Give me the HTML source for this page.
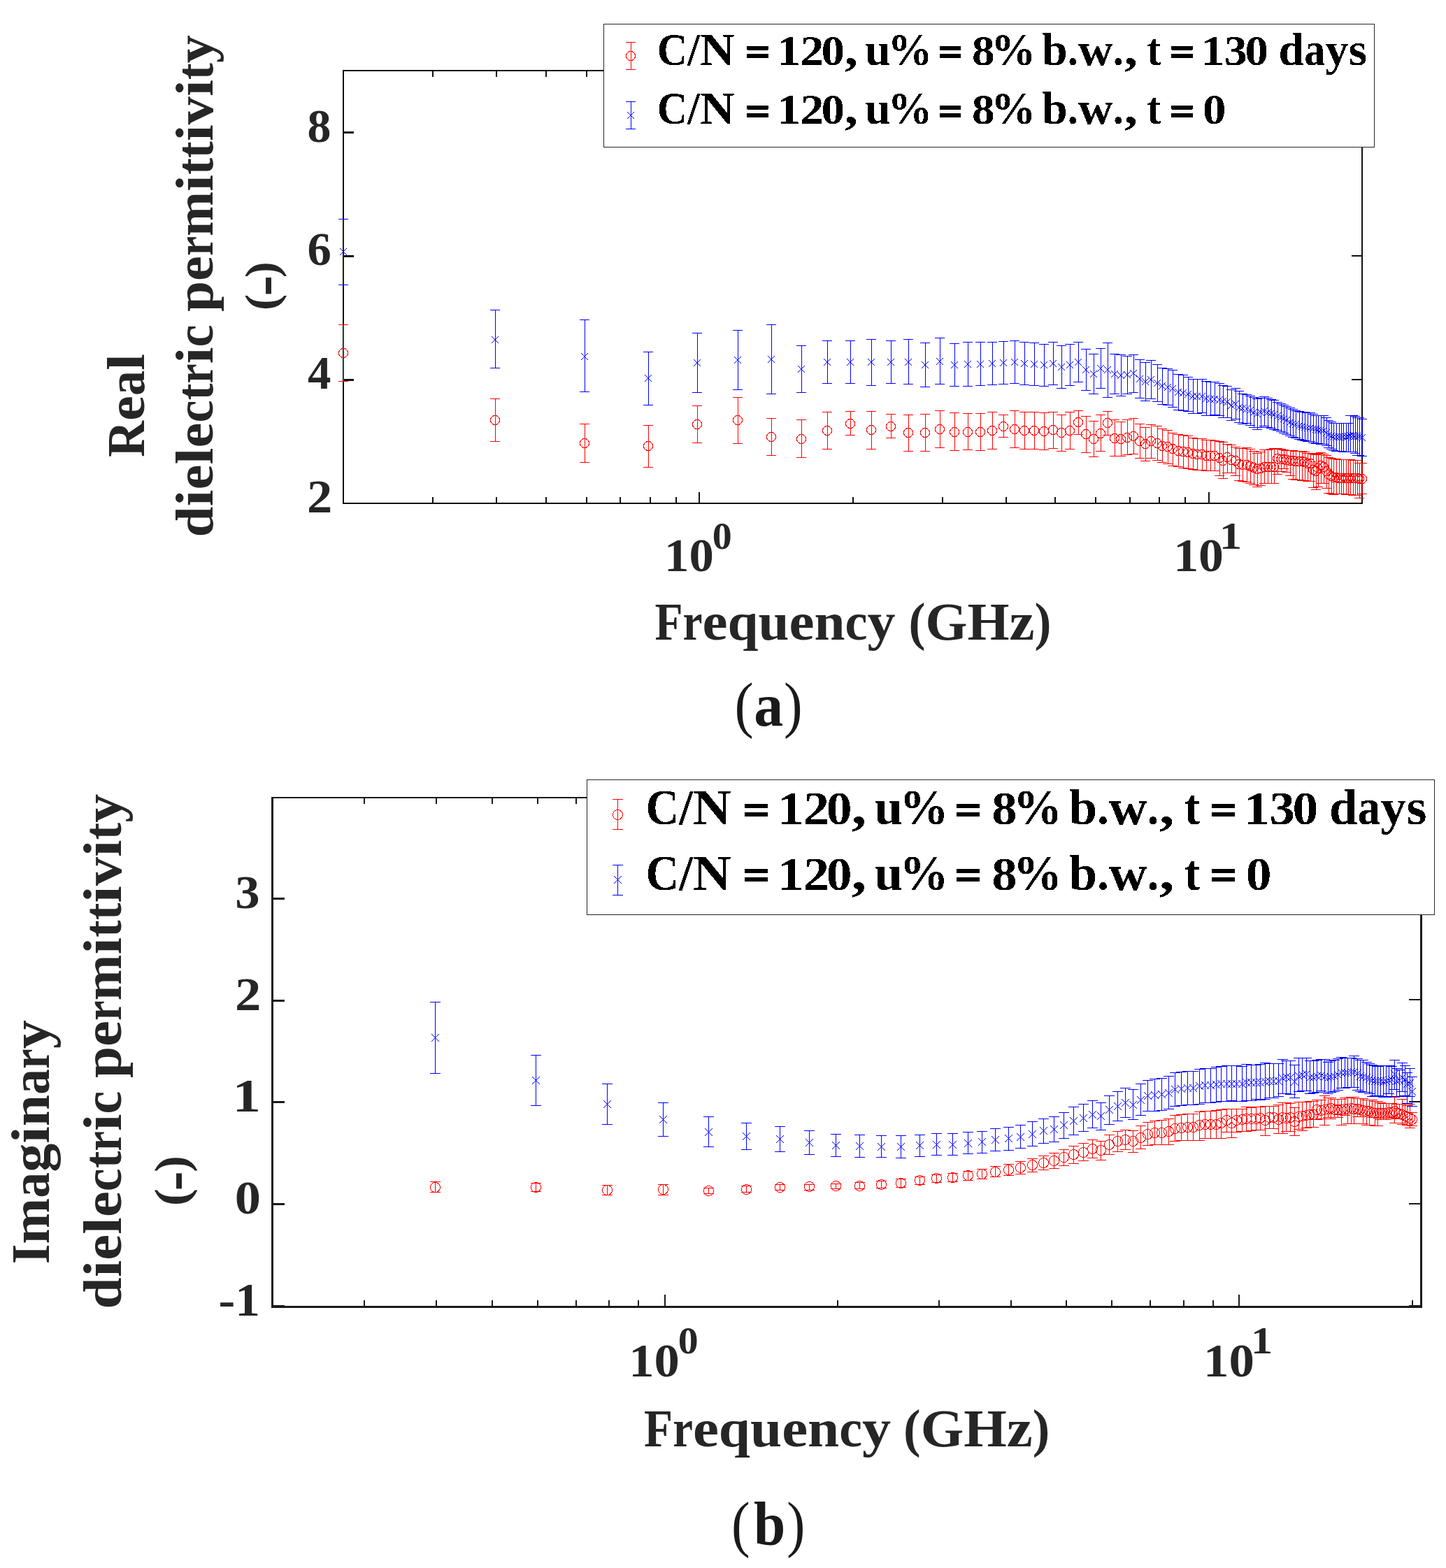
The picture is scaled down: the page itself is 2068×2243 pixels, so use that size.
<!DOCTYPE html>
<html lang="en">
<head>
<meta charset="utf-8">
<title>Dielectric permittivity vs frequency</title>
<style>
html,body{margin:0;padding:0;background:#fff;}
svg{display:block;}
text{font-family:"Liberation Serif", "DejaVu Serif", serif;font-weight:bold;white-space:pre;}
</style>
</head>
<body>
<svg xmlns="http://www.w3.org/2000/svg" width="2068" height="2243" viewBox="0 0 2068 2243">
<defs>
<filter id="alias" x="-2%" y="-20%" width="104%" height="140%" color-interpolation-filters="sRGB"><feComponentTransfer><feFuncA type="discrete" tableValues="0 1"/></feComponentTransfer></filter>
</defs>
<rect width="2068" height="2243" fill="#fff"/>
<g id="plot-a">
<path d="M490 100H492V721H490zM1947 100H1949V721H1947zM490 100H1949V102H490zM490 719H1949V721H490zM618 711H620V719H618zM618 102H620V110H618zM709 711H711V719H709zM709 102H711V110H709zM780 711H782V719H780zM780 102H782V110H780zM838 711H840V719H838zM838 102H840V110H838zM886 711H888V719H886zM886 102H888V110H886zM929 711H931V719H929zM929 102H931V110H929zM966 711H968V719H966zM966 102H968V110H966zM1219 711H1221V719H1219zM1219 102H1221V110H1219zM1347 711H1349V719H1347zM1347 102H1349V110H1347zM1438 711H1440V719H1438zM1438 102H1440V110H1438zM1508 711H1510V719H1508zM1508 102H1510V110H1508zM1566 711H1568V719H1566zM1566 102H1568V110H1566zM1615 711H1617V719H1615zM1615 102H1617V110H1615zM1657 711H1659V719H1657zM1657 102H1659V110H1657zM1694 711H1696V719H1694zM1694 102H1696V110H1694zM999 704H1001V719H999zM999 102H1001V117H999zM1728 704H1730V719H1728zM1728 102H1730V117H1728zM492 542H506V545H492zM1933 542H1947V544H1933zM492 365H506V368H492zM1933 365H1947V367H1933zM492 188H506V191H492zM1933 188H1947V190H1933z" fill="#111" shape-rendering="crispEdges"/>
<path d="M491.5 464V546M484 464.5h14M484 545.5h14M708.5 570V632M701 570.5h14M701 631.5h14M836.5 606V662M829 606.5h14M829 661.5h14M927.5 608V669M920 608.5h14M920 668.5h14M997.5 580V634M990 580.5h14M990 633.5h14M1055.5 568V635M1048 568.5h14M1048 634.5h14M1103.5 598V652M1096 598.5h14M1096 651.5h14M1146.5 600V655M1139 600.5h14M1139 654.5h14M1183.5 589V643M1176 589.5h14M1176 642.5h14M1216.5 588V623M1209 588.5h14M1209 622.5h14M1246.5 588V643M1239 588.5h14M1239 642.5h14M1274.5 592V627M1267 592.5h14M1267 626.5h14M1299.5 593V646M1292 593.5h14M1292 645.5h14M1323.5 592V646M1316 592.5h14M1316 645.5h14M1344.5 587V641M1337 587.5h14M1337 640.5h14M1365.5 590V645M1358 590.5h14M1358 644.5h14M1384.5 591V644M1377 591.5h14M1377 643.5h14M1402.5 591V645M1395 591.5h14M1395 644.5h14M1419.5 589V643M1412 589.5h14M1412 642.5h14M1435.5 593V626M1428 593.5h14M1428 625.5h14M1451.5 587V641M1444 587.5h14M1444 640.5h14M1465.5 589V643M1458 589.5h14M1458 642.5h14M1479.5 589V643M1472 589.5h14M1472 642.5h14M1493.5 590V644M1486 590.5h14M1486 643.5h14M1506.5 589V642M1499 589.5h14M1499 641.5h14M1518.5 593V646M1511 593.5h14M1511 645.5h14M1530.5 589V643M1523 589.5h14M1523 642.5h14M1542.5 587V622M1535 587.5h14M1535 621.5h14M1553.5 595V648M1546 595.5h14M1546 647.5h14M1564.5 602V654M1557 602.5h14M1557 653.5h14M1574.5 593V646M1567 593.5h14M1567 645.5h14M1584.5 588V623M1577 588.5h14M1577 622.5h14M1594.5 600V653M1587 600.5h14M1587 652.5h14M1603.5 603V653M1596 603.5h14M1596 652.5h14M1612.5 600V651M1605 600.5h14M1605 650.5h14M1621.5 598V650M1614 598.5h14M1614 649.5h14M1630.5 606V656M1623 606.5h14M1623 655.5h14M1638.5 611V660M1631 611.5h14M1631 659.5h14M1646.5 607V656M1639 607.5h14M1639 655.5h14M1655.5 609V659M1648 609.5h14M1648 658.5h14M1662.5 613V662M1655 613.5h14M1655 661.5h14M1670.5 615V664M1663 615.5h14M1663 663.5h14M1677.5 619V667M1670 619.5h14M1670 666.5h14M1685.5 621V668M1678 621.5h14M1678 667.5h14M1692.5 622V670M1685 622.5h14M1685 669.5h14M1699.5 623V671M1692 623.5h14M1692 670.5h14M1706.5 626V672M1699 626.5h14M1699 671.5h14M1712.5 627V673M1705 627.5h14M1705 672.5h14M1719.5 627V673M1712 627.5h14M1712 672.5h14M1725.5 629V674M1718 629.5h14M1718 673.5h14M1731.5 629V674M1724 629.5h14M1724 673.5h14M1737.5 630V674M1730 630.5h14M1730 673.5h14M1744.5 631V681M1737 631.5h14M1737 680.5h14M1749.5 632V685M1742 632.5h14M1742 684.5h14M1755.5 635V677M1748 635.5h14M1748 676.5h14M1761.5 636V677M1754 636.5h14M1754 676.5h14M1767.5 639V681M1760 639.5h14M1760 680.5h14M1772.5 641V688M1765 641.5h14M1765 687.5h14M1777.5 641V689M1770 641.5h14M1770 688.5h14M1783.5 640V690M1776 640.5h14M1776 689.5h14M1788.5 642V692M1781 642.5h14M1781 691.5h14M1793.5 645V694M1786 645.5h14M1786 693.5h14M1798.5 648V697M1791 648.5h14M1791 696.5h14M1803.5 646V695M1796 646.5h14M1796 694.5h14M1808.5 643V692M1801 643.5h14M1801 691.5h14M1813.5 643V692M1806 643.5h14M1806 691.5h14M1818.5 642V692M1811 642.5h14M1811 691.5h14M1822.5 641V692M1815 641.5h14M1815 691.5h14M1827.5 641V679M1820 641.5h14M1820 678.5h14M1832.5 642V675M1825 642.5h14M1825 674.5h14M1836.5 643V671M1829 643.5h14M1829 670.5h14M1840.5 644V676M1833 644.5h14M1833 675.5h14M1845.5 644V681M1838 644.5h14M1838 680.5h14M1849.5 644V686M1842 644.5h14M1842 685.5h14M1853.5 645V687M1846 645.5h14M1846 686.5h14M1858.5 645V687M1851 645.5h14M1851 686.5h14M1862.5 645V688M1855 645.5h14M1855 687.5h14M1866.5 646V688M1859 646.5h14M1859 687.5h14M1870.5 648V689M1863 648.5h14M1863 688.5h14M1874.5 648V689M1867 648.5h14M1867 688.5h14M1878.5 649V698M1871 649.5h14M1871 697.5h14M1882.5 650V701M1875 650.5h14M1875 700.5h14M1885.5 648V697M1878 648.5h14M1878 696.5h14M1889.5 647V692M1882 647.5h14M1882 691.5h14M1893.5 649V692M1886 649.5h14M1886 691.5h14M1897.5 651V699M1890 651.5h14M1890 698.5h14M1900.5 654V706M1893 654.5h14M1893 705.5h14M1904.5 655V707M1897 655.5h14M1897 706.5h14M1907.5 656V708M1900 656.5h14M1900 707.5h14M1911.5 656V707M1904 656.5h14M1904 706.5h14M1915.5 657V707M1908 657.5h14M1908 706.5h14M1918.5 657V707M1911 657.5h14M1911 706.5h14M1921.5 657V707M1914 657.5h14M1914 706.5h14M1925.5 657V708M1918 657.5h14M1918 707.5h14M1928.5 657V708M1921 657.5h14M1921 707.5h14M1931.5 657V708M1924 657.5h14M1924 707.5h14M1935.5 658V709M1928 658.5h14M1928 708.5h14M1938.5 658V709M1931 658.5h14M1931 708.5h14M1941.5 658V709M1934 658.5h14M1934 708.5h14M1944.5 662V713M1937 662.5h14M1937 712.5h14M1948.5 662V707M1941 662.5h14M1941 706.5h14" stroke="#ff0000" stroke-width="1" fill="none" shape-rendering="crispEdges"/><path d="M484.5 505a6.5 6.5 0 1 0 13 0a6.5 6.5 0 1 0 -13 0zM701.5 601a6.5 6.5 0 1 0 13 0a6.5 6.5 0 1 0 -13 0zM829.5 634a6.5 6.5 0 1 0 13 0a6.5 6.5 0 1 0 -13 0zM920.5 638a6.5 6.5 0 1 0 13 0a6.5 6.5 0 1 0 -13 0zM990.5 607a6.5 6.5 0 1 0 13 0a6.5 6.5 0 1 0 -13 0zM1048.5 601a6.5 6.5 0 1 0 13 0a6.5 6.5 0 1 0 -13 0zM1096.5 625a6.5 6.5 0 1 0 13 0a6.5 6.5 0 1 0 -13 0zM1139.5 628a6.5 6.5 0 1 0 13 0a6.5 6.5 0 1 0 -13 0zM1176.5 616a6.5 6.5 0 1 0 13 0a6.5 6.5 0 1 0 -13 0zM1209.5 606a6.5 6.5 0 1 0 13 0a6.5 6.5 0 1 0 -13 0zM1239.5 615a6.5 6.5 0 1 0 13 0a6.5 6.5 0 1 0 -13 0zM1267.5 610a6.5 6.5 0 1 0 13 0a6.5 6.5 0 1 0 -13 0zM1292.5 619a6.5 6.5 0 1 0 13 0a6.5 6.5 0 1 0 -13 0zM1316.5 619a6.5 6.5 0 1 0 13 0a6.5 6.5 0 1 0 -13 0zM1337.5 614a6.5 6.5 0 1 0 13 0a6.5 6.5 0 1 0 -13 0zM1358.5 618a6.5 6.5 0 1 0 13 0a6.5 6.5 0 1 0 -13 0zM1377.5 618a6.5 6.5 0 1 0 13 0a6.5 6.5 0 1 0 -13 0zM1395.5 618a6.5 6.5 0 1 0 13 0a6.5 6.5 0 1 0 -13 0zM1412.5 616a6.5 6.5 0 1 0 13 0a6.5 6.5 0 1 0 -13 0zM1428.5 610a6.5 6.5 0 1 0 13 0a6.5 6.5 0 1 0 -13 0zM1444.5 614a6.5 6.5 0 1 0 13 0a6.5 6.5 0 1 0 -13 0zM1458.5 616a6.5 6.5 0 1 0 13 0a6.5 6.5 0 1 0 -13 0zM1472.5 616a6.5 6.5 0 1 0 13 0a6.5 6.5 0 1 0 -13 0zM1486.5 617a6.5 6.5 0 1 0 13 0a6.5 6.5 0 1 0 -13 0zM1499.5 615a6.5 6.5 0 1 0 13 0a6.5 6.5 0 1 0 -13 0zM1511.5 619a6.5 6.5 0 1 0 13 0a6.5 6.5 0 1 0 -13 0zM1523.5 616a6.5 6.5 0 1 0 13 0a6.5 6.5 0 1 0 -13 0zM1535.5 604a6.5 6.5 0 1 0 13 0a6.5 6.5 0 1 0 -13 0zM1546.5 621a6.5 6.5 0 1 0 13 0a6.5 6.5 0 1 0 -13 0zM1557.5 628a6.5 6.5 0 1 0 13 0a6.5 6.5 0 1 0 -13 0zM1567.5 620a6.5 6.5 0 1 0 13 0a6.5 6.5 0 1 0 -13 0zM1577.5 605a6.5 6.5 0 1 0 13 0a6.5 6.5 0 1 0 -13 0zM1587.5 627a6.5 6.5 0 1 0 13 0a6.5 6.5 0 1 0 -13 0zM1596.5 628a6.5 6.5 0 1 0 13 0a6.5 6.5 0 1 0 -13 0zM1605.5 626a6.5 6.5 0 1 0 13 0a6.5 6.5 0 1 0 -13 0zM1614.5 624a6.5 6.5 0 1 0 13 0a6.5 6.5 0 1 0 -13 0zM1623.5 631a6.5 6.5 0 1 0 13 0a6.5 6.5 0 1 0 -13 0zM1631.5 635a6.5 6.5 0 1 0 13 0a6.5 6.5 0 1 0 -13 0zM1639.5 631a6.5 6.5 0 1 0 13 0a6.5 6.5 0 1 0 -13 0zM1648.5 634a6.5 6.5 0 1 0 13 0a6.5 6.5 0 1 0 -13 0zM1655.5 638a6.5 6.5 0 1 0 13 0a6.5 6.5 0 1 0 -13 0zM1663.5 639a6.5 6.5 0 1 0 13 0a6.5 6.5 0 1 0 -13 0zM1670.5 642a6.5 6.5 0 1 0 13 0a6.5 6.5 0 1 0 -13 0zM1678.5 645a6.5 6.5 0 1 0 13 0a6.5 6.5 0 1 0 -13 0zM1685.5 646a6.5 6.5 0 1 0 13 0a6.5 6.5 0 1 0 -13 0zM1692.5 647a6.5 6.5 0 1 0 13 0a6.5 6.5 0 1 0 -13 0zM1699.5 649a6.5 6.5 0 1 0 13 0a6.5 6.5 0 1 0 -13 0zM1705.5 650a6.5 6.5 0 1 0 13 0a6.5 6.5 0 1 0 -13 0zM1712.5 650a6.5 6.5 0 1 0 13 0a6.5 6.5 0 1 0 -13 0zM1718.5 652a6.5 6.5 0 1 0 13 0a6.5 6.5 0 1 0 -13 0zM1724.5 652a6.5 6.5 0 1 0 13 0a6.5 6.5 0 1 0 -13 0zM1730.5 652a6.5 6.5 0 1 0 13 0a6.5 6.5 0 1 0 -13 0zM1737.5 655a6.5 6.5 0 1 0 13 0a6.5 6.5 0 1 0 -13 0zM1742.5 659a6.5 6.5 0 1 0 13 0a6.5 6.5 0 1 0 -13 0zM1748.5 654a6.5 6.5 0 1 0 13 0a6.5 6.5 0 1 0 -13 0zM1754.5 658a6.5 6.5 0 1 0 13 0a6.5 6.5 0 1 0 -13 0zM1760.5 659a6.5 6.5 0 1 0 13 0a6.5 6.5 0 1 0 -13 0zM1765.5 664a6.5 6.5 0 1 0 13 0a6.5 6.5 0 1 0 -13 0zM1770.5 665a6.5 6.5 0 1 0 13 0a6.5 6.5 0 1 0 -13 0zM1776.5 665a6.5 6.5 0 1 0 13 0a6.5 6.5 0 1 0 -13 0zM1781.5 667a6.5 6.5 0 1 0 13 0a6.5 6.5 0 1 0 -13 0zM1786.5 669a6.5 6.5 0 1 0 13 0a6.5 6.5 0 1 0 -13 0zM1791.5 671a6.5 6.5 0 1 0 13 0a6.5 6.5 0 1 0 -13 0zM1796.5 670a6.5 6.5 0 1 0 13 0a6.5 6.5 0 1 0 -13 0zM1801.5 668a6.5 6.5 0 1 0 13 0a6.5 6.5 0 1 0 -13 0zM1806.5 668a6.5 6.5 0 1 0 13 0a6.5 6.5 0 1 0 -13 0zM1811.5 668a6.5 6.5 0 1 0 13 0a6.5 6.5 0 1 0 -13 0zM1815.5 668a6.5 6.5 0 1 0 13 0a6.5 6.5 0 1 0 -13 0zM1820.5 656a6.5 6.5 0 1 0 13 0a6.5 6.5 0 1 0 -13 0zM1825.5 657a6.5 6.5 0 1 0 13 0a6.5 6.5 0 1 0 -13 0zM1829.5 657a6.5 6.5 0 1 0 13 0a6.5 6.5 0 1 0 -13 0zM1833.5 658a6.5 6.5 0 1 0 13 0a6.5 6.5 0 1 0 -13 0zM1838.5 659a6.5 6.5 0 1 0 13 0a6.5 6.5 0 1 0 -13 0zM1842.5 659a6.5 6.5 0 1 0 13 0a6.5 6.5 0 1 0 -13 0zM1846.5 660a6.5 6.5 0 1 0 13 0a6.5 6.5 0 1 0 -13 0zM1851.5 660a6.5 6.5 0 1 0 13 0a6.5 6.5 0 1 0 -13 0zM1855.5 660a6.5 6.5 0 1 0 13 0a6.5 6.5 0 1 0 -13 0zM1859.5 661a6.5 6.5 0 1 0 13 0a6.5 6.5 0 1 0 -13 0zM1863.5 663a6.5 6.5 0 1 0 13 0a6.5 6.5 0 1 0 -13 0zM1867.5 663a6.5 6.5 0 1 0 13 0a6.5 6.5 0 1 0 -13 0zM1871.5 672a6.5 6.5 0 1 0 13 0a6.5 6.5 0 1 0 -13 0zM1875.5 674a6.5 6.5 0 1 0 13 0a6.5 6.5 0 1 0 -13 0zM1878.5 670a6.5 6.5 0 1 0 13 0a6.5 6.5 0 1 0 -13 0zM1882.5 666a6.5 6.5 0 1 0 13 0a6.5 6.5 0 1 0 -13 0zM1886.5 668a6.5 6.5 0 1 0 13 0a6.5 6.5 0 1 0 -13 0zM1890.5 674a6.5 6.5 0 1 0 13 0a6.5 6.5 0 1 0 -13 0zM1893.5 679a6.5 6.5 0 1 0 13 0a6.5 6.5 0 1 0 -13 0zM1897.5 681a6.5 6.5 0 1 0 13 0a6.5 6.5 0 1 0 -13 0zM1900.5 683a6.5 6.5 0 1 0 13 0a6.5 6.5 0 1 0 -13 0zM1904.5 683a6.5 6.5 0 1 0 13 0a6.5 6.5 0 1 0 -13 0zM1908.5 684a6.5 6.5 0 1 0 13 0a6.5 6.5 0 1 0 -13 0zM1911.5 684a6.5 6.5 0 1 0 13 0a6.5 6.5 0 1 0 -13 0zM1914.5 684a6.5 6.5 0 1 0 13 0a6.5 6.5 0 1 0 -13 0zM1918.5 684a6.5 6.5 0 1 0 13 0a6.5 6.5 0 1 0 -13 0zM1921.5 684a6.5 6.5 0 1 0 13 0a6.5 6.5 0 1 0 -13 0zM1924.5 684a6.5 6.5 0 1 0 13 0a6.5 6.5 0 1 0 -13 0zM1928.5 684a6.5 6.5 0 1 0 13 0a6.5 6.5 0 1 0 -13 0zM1931.5 684a6.5 6.5 0 1 0 13 0a6.5 6.5 0 1 0 -13 0zM1934.5 684a6.5 6.5 0 1 0 13 0a6.5 6.5 0 1 0 -13 0zM1937.5 685a6.5 6.5 0 1 0 13 0a6.5 6.5 0 1 0 -13 0zM1941.5 685a6.5 6.5 0 1 0 13 0a6.5 6.5 0 1 0 -13 0z" stroke="#ff0000" stroke-width="1" stroke-linecap="square" fill="none" shape-rendering="crispEdges"/>
<path d="M491.5 313V408M484 313.5h14M484 407.5h14M708.5 443V527M701 443.5h14M701 526.5h14M836.5 457V561M829 457.5h14M829 560.5h14M927.5 503V580M920 503.5h14M920 579.5h14M997.5 476V562M990 476.5h14M990 561.5h14M1055.5 472V558M1048 472.5h14M1048 557.5h14M1103.5 464V564M1096 464.5h14M1096 563.5h14M1146.5 494V562M1139 494.5h14M1139 561.5h14M1183.5 487V549M1176 487.5h14M1176 548.5h14M1216.5 487V549M1209 487.5h14M1209 548.5h14M1246.5 485V552M1239 485.5h14M1239 551.5h14M1274.5 487V549M1267 487.5h14M1267 548.5h14M1299.5 485V550M1292 485.5h14M1292 549.5h14M1323.5 490V554M1316 490.5h14M1316 553.5h14M1344.5 483V550M1337 483.5h14M1337 549.5h14M1365.5 491V553M1358 491.5h14M1358 552.5h14M1384.5 489V553M1377 489.5h14M1377 552.5h14M1402.5 489V552M1395 489.5h14M1395 551.5h14M1419.5 489V551M1412 489.5h14M1412 550.5h14M1435.5 488V550M1428 488.5h14M1428 549.5h14M1451.5 487V549M1444 487.5h14M1444 548.5h14M1465.5 489V551M1458 489.5h14M1458 550.5h14M1479.5 490V552M1472 490.5h14M1472 551.5h14M1493.5 492V553M1486 492.5h14M1486 552.5h14M1506.5 489V551M1499 489.5h14M1499 550.5h14M1518.5 494V556M1511 494.5h14M1511 555.5h14M1530.5 492V552M1523 492.5h14M1523 551.5h14M1542.5 489V547M1535 489.5h14M1535 546.5h14M1553.5 499V559M1546 499.5h14M1546 558.5h14M1564.5 506V564M1557 506.5h14M1557 563.5h14M1574.5 498V556M1567 498.5h14M1567 555.5h14M1584.5 490V569M1577 490.5h14M1577 568.5h14M1594.5 506V564M1587 506.5h14M1587 563.5h14M1603.5 507V567M1596 507.5h14M1596 566.5h14M1612.5 509V564M1605 509.5h14M1605 563.5h14M1621.5 507V562M1614 507.5h14M1614 561.5h14M1630.5 514V570M1623 514.5h14M1623 569.5h14M1638.5 518V574M1631 518.5h14M1631 573.5h14M1646.5 515V571M1639 515.5h14M1639 570.5h14M1655.5 521V575M1648 521.5h14M1648 574.5h14M1662.5 526V579M1655 526.5h14M1655 578.5h14M1670.5 527V580M1663 527.5h14M1663 579.5h14M1677.5 529V583M1670 529.5h14M1670 582.5h14M1685.5 535V587M1678 535.5h14M1678 586.5h14M1692.5 536V588M1685 536.5h14M1685 587.5h14M1699.5 539V589M1692 539.5h14M1692 588.5h14M1706.5 542V592M1699 542.5h14M1699 591.5h14M1712.5 542V592M1705 542.5h14M1705 591.5h14M1719.5 542V591M1712 542.5h14M1712 590.5h14M1725.5 545V595M1718 545.5h14M1718 594.5h14M1731.5 546V595M1724 546.5h14M1724 594.5h14M1737.5 546V594M1730 546.5h14M1730 593.5h14M1744.5 548V595M1737 548.5h14M1737 594.5h14M1749.5 551V598M1742 551.5h14M1742 597.5h14M1755.5 552V598M1748 552.5h14M1748 597.5h14M1761.5 557V602M1754 557.5h14M1754 601.5h14M1767.5 555V600M1760 555.5h14M1760 599.5h14M1772.5 559V605M1765 559.5h14M1765 604.5h14M1777.5 563V607M1770 563.5h14M1770 606.5h14M1783.5 564V606M1776 564.5h14M1776 605.5h14M1788.5 566V609M1781 566.5h14M1781 608.5h14M1793.5 568V612M1786 568.5h14M1786 611.5h14M1798.5 570V615M1791 570.5h14M1791 614.5h14M1803.5 569V612M1796 569.5h14M1796 611.5h14M1808.5 567V610M1801 567.5h14M1801 609.5h14M1813.5 569V612M1806 569.5h14M1806 611.5h14M1818.5 571V613M1811 571.5h14M1811 612.5h14M1822.5 572V615M1815 572.5h14M1815 614.5h14M1827.5 575V616M1820 575.5h14M1820 615.5h14M1832.5 577V618M1825 577.5h14M1825 617.5h14M1836.5 579V620M1829 579.5h14M1829 619.5h14M1840.5 581V622M1833 581.5h14M1833 621.5h14M1845.5 583V624M1838 583.5h14M1838 623.5h14M1849.5 585V626M1842 585.5h14M1842 625.5h14M1853.5 587V627M1846 587.5h14M1846 626.5h14M1858.5 588V629M1851 588.5h14M1851 628.5h14M1862.5 589V630M1855 589.5h14M1855 629.5h14M1866.5 589V631M1859 589.5h14M1859 630.5h14M1870.5 590V632M1863 590.5h14M1863 631.5h14M1874.5 590V632M1867 590.5h14M1867 631.5h14M1878.5 592V634M1871 592.5h14M1871 633.5h14M1882.5 594V635M1875 594.5h14M1875 634.5h14M1885.5 594V635M1878 594.5h14M1878 634.5h14M1889.5 594V636M1882 594.5h14M1882 635.5h14M1893.5 594V636M1886 594.5h14M1886 635.5h14M1897.5 597V638M1890 597.5h14M1890 637.5h14M1900.5 601V641M1893 601.5h14M1893 640.5h14M1904.5 603V643M1897 603.5h14M1897 642.5h14M1907.5 605V645M1900 605.5h14M1900 644.5h14M1911.5 605V646M1904 605.5h14M1904 645.5h14M1915.5 605V646M1908 605.5h14M1908 645.5h14M1918.5 605V646M1911 605.5h14M1911 645.5h14M1921.5 605V647M1914 605.5h14M1914 646.5h14M1925.5 605V647M1918 605.5h14M1918 646.5h14M1928.5 605V647M1921 605.5h14M1921 646.5h14M1931.5 594V647M1924 594.5h14M1924 646.5h14M1935.5 594V647M1928 594.5h14M1928 646.5h14M1938.5 595V649M1931 595.5h14M1931 648.5h14M1941.5 597V652M1934 597.5h14M1934 651.5h14M1944.5 597V652M1937 597.5h14M1937 651.5h14M1948.5 599V653M1941 599.5h14M1941 652.5h14" stroke="#0000ff" stroke-width="1" fill="none" shape-rendering="crispEdges"/><path d="M486 355l10 10M486 365l10 -10M703 481l10 10M703 491l10 -10M831 505l10 10M831 515l10 -10M922 536l10 10M922 546l10 -10M992 514l10 10M992 524l10 -10M1050 510l10 10M1050 520l10 -10M1098 509l10 10M1098 519l10 -10M1141 523l10 10M1141 533l10 -10M1178 513l10 10M1178 523l10 -10M1211 513l10 10M1211 523l10 -10M1241 513l10 10M1241 523l10 -10M1269 513l10 10M1269 523l10 -10M1294 513l10 10M1294 523l10 -10M1318 517l10 10M1318 527l10 -10M1339 512l10 10M1339 522l10 -10M1360 517l10 10M1360 527l10 -10M1379 516l10 10M1379 526l10 -10M1397 516l10 10M1397 526l10 -10M1414 515l10 10M1414 525l10 -10M1430 514l10 10M1430 524l10 -10M1446 513l10 10M1446 523l10 -10M1460 515l10 10M1460 525l10 -10M1474 516l10 10M1474 526l10 -10M1488 517l10 10M1488 527l10 -10M1501 515l10 10M1501 525l10 -10M1513 520l10 10M1513 530l10 -10M1525 517l10 10M1525 527l10 -10M1537 513l10 10M1537 523l10 -10M1548 524l10 10M1548 534l10 -10M1559 530l10 10M1559 540l10 -10M1569 522l10 10M1569 532l10 -10M1579 524l10 10M1579 534l10 -10M1589 530l10 10M1589 540l10 -10M1598 532l10 10M1598 542l10 -10M1607 531l10 10M1607 541l10 -10M1616 529l10 10M1616 539l10 -10M1625 537l10 10M1625 547l10 -10M1633 541l10 10M1633 551l10 -10M1641 538l10 10M1641 548l10 -10M1650 543l10 10M1650 553l10 -10M1657 547l10 10M1657 557l10 -10M1665 549l10 10M1665 559l10 -10M1672 551l10 10M1672 561l10 -10M1680 556l10 10M1680 566l10 -10M1687 557l10 10M1687 567l10 -10M1694 559l10 10M1694 569l10 -10M1701 562l10 10M1701 572l10 -10M1707 562l10 10M1707 572l10 -10M1714 562l10 10M1714 572l10 -10M1720 565l10 10M1720 575l10 -10M1726 566l10 10M1726 576l10 -10M1732 566l10 10M1732 576l10 -10M1739 567l10 10M1739 577l10 -10M1744 569l10 10M1744 579l10 -10M1750 570l10 10M1750 580l10 -10M1756 575l10 10M1756 585l10 -10M1762 573l10 10M1762 583l10 -10M1767 578l10 10M1767 588l10 -10M1772 579l10 10M1772 589l10 -10M1778 580l10 10M1778 590l10 -10M1783 582l10 10M1783 592l10 -10M1788 585l10 10M1788 595l10 -10M1793 587l10 10M1793 597l10 -10M1798 585l10 10M1798 595l10 -10M1803 583l10 10M1803 593l10 -10M1808 585l10 10M1808 595l10 -10M1813 586l10 10M1813 596l10 -10M1817 588l10 10M1817 598l10 -10M1822 590l10 10M1822 600l10 -10M1827 592l10 10M1827 602l10 -10M1831 594l10 10M1831 604l10 -10M1835 596l10 10M1835 606l10 -10M1840 599l10 10M1840 609l10 -10M1844 601l10 10M1844 611l10 -10M1848 602l10 10M1848 612l10 -10M1853 604l10 10M1853 614l10 -10M1857 605l10 10M1857 615l10 -10M1861 606l10 10M1861 616l10 -10M1865 607l10 10M1865 617l10 -10M1869 607l10 10M1869 617l10 -10M1873 608l10 10M1873 618l10 -10M1877 609l10 10M1877 619l10 -10M1880 610l10 10M1880 620l10 -10M1884 610l10 10M1884 620l10 -10M1888 611l10 10M1888 621l10 -10M1892 614l10 10M1892 624l10 -10M1895 617l10 10M1895 627l10 -10M1899 619l10 10M1899 629l10 -10M1902 620l10 10M1902 630l10 -10M1906 620l10 10M1906 630l10 -10M1910 620l10 10M1910 630l10 -10M1913 620l10 10M1913 630l10 -10M1916 620l10 10M1916 630l10 -10M1920 620l10 10M1920 630l10 -10M1923 619l10 10M1923 629l10 -10M1926 618l10 10M1926 628l10 -10M1930 618l10 10M1930 628l10 -10M1933 619l10 10M1933 629l10 -10M1936 619l10 10M1936 629l10 -10M1939 619l10 10M1939 629l10 -10M1943 621l10 10M1943 631l10 -10" stroke="#0000ff" stroke-width="1" stroke-linecap="square" fill="none" shape-rendering="crispEdges"/>
<text y="202.60" font-size="68.00" fill="#262626"><tspan x="439.52" textLength="33.95" lengthAdjust="spacingAndGlyphs">8</tspan></text>
<text y="379.40" font-size="68.00" fill="#262626"><tspan x="439.49" textLength="34.37" lengthAdjust="spacingAndGlyphs">6</tspan></text>
<text y="556.20" font-size="68.00" fill="#262626"><tspan x="439.90" textLength="33.44" lengthAdjust="spacingAndGlyphs">4</tspan></text>
<text y="733.00" font-size="68.00" fill="#262626"><tspan x="439.10" textLength="36.27" lengthAdjust="spacingAndGlyphs">2</tspan></text>
<text y="816.90" font-size="68" fill="#262626"><tspan x="950.04" textLength="70.80" lengthAdjust="spacingAndGlyphs">10</tspan><tspan x="1018.76" textLength="27.98" lengthAdjust="spacingAndGlyphs" y="784.90" font-size="54.00">0</tspan></text>
<text y="816.90" font-size="68" fill="#262626"><tspan x="1678.15" textLength="71.82" lengthAdjust="spacingAndGlyphs">10</tspan><tspan x="1743.81" textLength="32.43" lengthAdjust="spacingAndGlyphs" y="784.90" font-size="54.00">1</tspan></text>
<text y="915.20" font-size="75.50" fill="#262626"><tspan x="936.42" y="915.20" textLength="40.03" lengthAdjust="spacingAndGlyphs">F</tspan><tspan x="976.45" y="915.20" textLength="28.01" lengthAdjust="spacingAndGlyphs">r</tspan><tspan x="1004.46" y="915.20" textLength="36.00" lengthAdjust="spacingAndGlyphs">e</tspan><tspan x="1040.46" y="915.20" textLength="43.99" lengthAdjust="spacingAndGlyphs">q</tspan><tspan x="1084.45" y="915.20" textLength="43.99" lengthAdjust="spacingAndGlyphs">u</tspan><tspan x="1128.44" y="915.20" textLength="36.00" lengthAdjust="spacingAndGlyphs">e</tspan><tspan x="1164.44" y="915.20" textLength="43.99" lengthAdjust="spacingAndGlyphs">n</tspan><tspan x="1208.43" y="915.20" textLength="31.97" lengthAdjust="spacingAndGlyphs">c</tspan><tspan x="1240.40" y="915.20" textLength="40.03" lengthAdjust="spacingAndGlyphs">y</tspan> <tspan x="1299.56" y="915.20" textLength="23.98" lengthAdjust="spacingAndGlyphs">(</tspan><tspan x="1323.54" y="915.20" textLength="59.98" lengthAdjust="spacingAndGlyphs">G</tspan><tspan x="1383.51" y="915.20" textLength="59.98" lengthAdjust="spacingAndGlyphs">H</tspan><tspan x="1443.49" y="915.20" textLength="36.00" lengthAdjust="spacingAndGlyphs">z</tspan><tspan x="1479.49" y="915.20" textLength="23.98" lengthAdjust="spacingAndGlyphs">)</tspan></text>
<text transform="rotate(-90)" y="205.80" font-size="76.50" fill="#262626"><tspan x="-654.08" textLength="51.98" lengthAdjust="spacingAndGlyphs">R</tspan><tspan x="-602.10" textLength="36.00" lengthAdjust="spacingAndGlyphs">e</tspan><tspan x="-566.10" textLength="36.00" lengthAdjust="spacingAndGlyphs">a</tspan><tspan x="-530.10" textLength="23.98" lengthAdjust="spacingAndGlyphs">l</tspan></text>
<text transform="rotate(-90)" y="304.00" font-size="76.50" fill="#262626"><tspan x="-768.46" textLength="43.99" lengthAdjust="spacingAndGlyphs">d</tspan><tspan x="-724.47" textLength="23.98" lengthAdjust="spacingAndGlyphs">i</tspan><tspan x="-700.50" textLength="36.00" lengthAdjust="spacingAndGlyphs">e</tspan><tspan x="-664.50" textLength="23.98" lengthAdjust="spacingAndGlyphs">l</tspan><tspan x="-640.52" textLength="36.00" lengthAdjust="spacingAndGlyphs">e</tspan><tspan x="-604.52" textLength="31.97" lengthAdjust="spacingAndGlyphs">c</tspan><tspan x="-572.55" textLength="23.98" lengthAdjust="spacingAndGlyphs">t</tspan><tspan x="-548.58" textLength="28.01" lengthAdjust="spacingAndGlyphs">r</tspan><tspan x="-520.57" textLength="23.98" lengthAdjust="spacingAndGlyphs">i</tspan><tspan x="-496.59" textLength="31.97" lengthAdjust="spacingAndGlyphs">c</tspan> <tspan x="-446.09" textLength="43.99" lengthAdjust="spacingAndGlyphs">p</tspan><tspan x="-402.09" textLength="36.00" lengthAdjust="spacingAndGlyphs">e</tspan><tspan x="-366.09" textLength="28.01" lengthAdjust="spacingAndGlyphs">r</tspan><tspan x="-338.09" textLength="64.01" lengthAdjust="spacingAndGlyphs">m</tspan><tspan x="-274.08" textLength="23.98" lengthAdjust="spacingAndGlyphs">i</tspan><tspan x="-250.10" textLength="23.98" lengthAdjust="spacingAndGlyphs">t</tspan><tspan x="-226.13" textLength="23.98" lengthAdjust="spacingAndGlyphs">t</tspan><tspan x="-202.15" textLength="23.98" lengthAdjust="spacingAndGlyphs">i</tspan><tspan x="-178.17" textLength="40.03" lengthAdjust="spacingAndGlyphs">v</tspan><tspan x="-138.14" textLength="23.98" lengthAdjust="spacingAndGlyphs">i</tspan><tspan x="-114.17" textLength="23.98" lengthAdjust="spacingAndGlyphs">t</tspan><tspan x="-90.19" textLength="40.03" lengthAdjust="spacingAndGlyphs">y</tspan></text>
<text transform="rotate(-90)" fill="#262626"><tspan x="-444.18" y="396.08" font-size="65.33" textLength="23.51" lengthAdjust="spacingAndGlyphs">(</tspan><tspan x="-423.75" y="406.38" font-size="94.12" textLength="29.97" lengthAdjust="spacingAndGlyphs">-</tspan><tspan x="-397.27" y="396.08" font-size="65.33" textLength="22.93" lengthAdjust="spacingAndGlyphs">)</tspan></text>
<text y="1037.5" font-size="88" fill="#1a1a1a"><tspan x="1050.43" textLength="27.17" lengthAdjust="spacingAndGlyphs" font-weight="normal">(</tspan><tspan x="1078.29" textLength="41.87" lengthAdjust="spacingAndGlyphs">a</tspan><tspan x="1121.00" textLength="26.64" lengthAdjust="spacingAndGlyphs" font-weight="normal">)</tspan></text>
<rect x="863.5" y="34.5" width="1102" height="176" fill="#fff" stroke="#262626" stroke-width="1" shape-rendering="crispEdges"/>
<path d="M902.5 60V100M895 60.5h14M895 99.5h14" stroke="#ff0000" stroke-width="1" fill="none" shape-rendering="crispEdges"/><path d="M895.5 80a6.5 6.5 0 1 0 13 0a6.5 6.5 0 1 0 -13 0z" stroke="#ff0000" stroke-width="1" stroke-linecap="square" fill="none" shape-rendering="crispEdges"/>
<path d="M902.5 145V185M895 145.5h14M895 184.5h14" stroke="#0000ff" stroke-width="1" fill="none" shape-rendering="crispEdges"/><path d="M897 160l10 10M897 170l10 -10" stroke="#0000ff" stroke-width="1" stroke-linecap="square" fill="none" shape-rendering="crispEdges"/>
<text y="92.50" font-size="64.50" fill="#000" filter="url(#alias)"><tspan x="939.80" y="92.50" textLength="43.32" lengthAdjust="spacingAndGlyphs">C</tspan><tspan x="983.12" y="92.50" textLength="17.76" lengthAdjust="spacingAndGlyphs">/</tspan><tspan x="1000.88" y="92.50" textLength="49.98" lengthAdjust="spacingAndGlyphs">N</tspan> <tspan x="1066.42" y="91.82" font-size="55.48" textLength="34.31" lengthAdjust="spacingAndGlyphs" stroke="#000" stroke-width="2.00">=</tspan> <tspan x="1111.09" y="92.50" textLength="34.46" lengthAdjust="spacingAndGlyphs" font-size="61.60">1</tspan><tspan x="1144.49" y="92.50" textLength="33.83" lengthAdjust="spacingAndGlyphs" font-size="61.60">2</tspan><tspan x="1174.53" y="92.50" textLength="33.43" lengthAdjust="spacingAndGlyphs" font-size="61.60">0</tspan><tspan x="1207.41" y="92.50" textLength="19.46" lengthAdjust="spacingAndGlyphs" font-size="64.50">,</tspan> <tspan x="1237.01" y="92.50" textLength="36.66" lengthAdjust="spacingAndGlyphs">u</tspan><tspan x="1269.69" y="92.50" textLength="63.60" lengthAdjust="spacingAndGlyphs" font-size="64.50">%</tspan> <tspan x="1342.12" y="91.82" font-size="55.48" textLength="34.31" lengthAdjust="spacingAndGlyphs" stroke="#000" stroke-width="2.00">=</tspan> <tspan x="1389.91" y="92.50" textLength="32.65" lengthAdjust="spacingAndGlyphs" font-size="61.60">8</tspan><tspan x="1417.62" y="92.50" textLength="63.60" lengthAdjust="spacingAndGlyphs" font-size="64.50">%</tspan> <tspan x="1490.11" y="92.50" textLength="36.66" lengthAdjust="spacingAndGlyphs">b</tspan><tspan x="1526.77" y="92.50" textLength="15.00" lengthAdjust="spacingAndGlyphs">.</tspan><tspan x="1541.77" y="92.50" textLength="49.98" lengthAdjust="spacingAndGlyphs">w</tspan><tspan x="1591.75" y="92.50" textLength="15.00" lengthAdjust="spacingAndGlyphs">.</tspan><tspan x="1607.56" y="92.50" textLength="19.46" lengthAdjust="spacingAndGlyphs" font-size="64.50">,</tspan> <tspan x="1640.20" y="92.50" textLength="19.98" lengthAdjust="spacingAndGlyphs">t</tspan> <tspan x="1673.42" y="91.82" font-size="55.48" textLength="34.31" lengthAdjust="spacingAndGlyphs" stroke="#000" stroke-width="2.00">=</tspan> <tspan x="1717.19" y="92.50" textLength="34.46" lengthAdjust="spacingAndGlyphs" font-size="61.60">1</tspan><tspan x="1750.66" y="92.50" textLength="33.04" lengthAdjust="spacingAndGlyphs" font-size="61.60">3</tspan><tspan x="1780.63" y="92.50" textLength="33.43" lengthAdjust="spacingAndGlyphs" font-size="61.60">0</tspan> <tspan x="1828.56" y="92.50" textLength="36.66" lengthAdjust="spacingAndGlyphs">d</tspan><tspan x="1865.22" y="92.50" textLength="30.00" lengthAdjust="spacingAndGlyphs">a</tspan><tspan x="1895.22" y="92.50" textLength="33.36" lengthAdjust="spacingAndGlyphs">y</tspan><tspan x="1928.58" y="92.50" textLength="26.64" lengthAdjust="spacingAndGlyphs">s</tspan></text>
<text y="177.40" font-size="64.50" fill="#000" filter="url(#alias)"><tspan x="939.80" y="177.40" textLength="43.32" lengthAdjust="spacingAndGlyphs">C</tspan><tspan x="983.12" y="177.40" textLength="17.76" lengthAdjust="spacingAndGlyphs">/</tspan><tspan x="1000.88" y="177.40" textLength="49.98" lengthAdjust="spacingAndGlyphs">N</tspan> <tspan x="1066.42" y="176.72" font-size="55.48" textLength="34.31" lengthAdjust="spacingAndGlyphs" stroke="#000" stroke-width="2.00">=</tspan> <tspan x="1111.09" y="177.40" textLength="34.46" lengthAdjust="spacingAndGlyphs" font-size="61.60">1</tspan><tspan x="1144.49" y="177.40" textLength="33.83" lengthAdjust="spacingAndGlyphs" font-size="61.60">2</tspan><tspan x="1174.53" y="177.40" textLength="33.43" lengthAdjust="spacingAndGlyphs" font-size="61.60">0</tspan><tspan x="1207.41" y="177.40" textLength="19.46" lengthAdjust="spacingAndGlyphs" font-size="64.50">,</tspan> <tspan x="1237.01" y="177.40" textLength="36.66" lengthAdjust="spacingAndGlyphs">u</tspan><tspan x="1269.69" y="177.40" textLength="63.60" lengthAdjust="spacingAndGlyphs" font-size="64.50">%</tspan> <tspan x="1342.12" y="176.72" font-size="55.48" textLength="34.31" lengthAdjust="spacingAndGlyphs" stroke="#000" stroke-width="2.00">=</tspan> <tspan x="1389.91" y="177.40" textLength="32.65" lengthAdjust="spacingAndGlyphs" font-size="61.60">8</tspan><tspan x="1417.62" y="177.40" textLength="63.60" lengthAdjust="spacingAndGlyphs" font-size="64.50">%</tspan> <tspan x="1490.11" y="177.40" textLength="36.66" lengthAdjust="spacingAndGlyphs">b</tspan><tspan x="1526.77" y="177.40" textLength="15.00" lengthAdjust="spacingAndGlyphs">.</tspan><tspan x="1541.77" y="177.40" textLength="49.98" lengthAdjust="spacingAndGlyphs">w</tspan><tspan x="1591.75" y="177.40" textLength="15.00" lengthAdjust="spacingAndGlyphs">.</tspan><tspan x="1607.56" y="177.40" textLength="19.46" lengthAdjust="spacingAndGlyphs" font-size="64.50">,</tspan> <tspan x="1640.20" y="177.40" textLength="19.98" lengthAdjust="spacingAndGlyphs">t</tspan> <tspan x="1673.42" y="176.72" font-size="55.48" textLength="34.31" lengthAdjust="spacingAndGlyphs" stroke="#000" stroke-width="2.00">=</tspan> <tspan x="1720.03" y="177.40" textLength="33.43" lengthAdjust="spacingAndGlyphs" font-size="61.60">0</tspan></text>
</g>
<g id="plot-b">
<path d="M388 1140H391V1871H388zM2031 1140H2034V1871H2031zM388 1140H2034V1142H388zM388 1868H2034V1871H388zM520 1860H522V1868H520zM520 1142H522V1150H520zM623 1860H625V1868H623zM623 1142H625V1150H623zM703 1860H705V1868H703zM703 1142H705V1150H703zM768 1860H770V1868H768zM768 1142H770V1150H768zM823 1860H825V1868H823zM823 1142H825V1150H823zM870 1860H872V1868H870zM870 1142H872V1150H870zM912 1860H914V1868H912zM912 1142H914V1150H912zM1197 1860H1199V1868H1197zM1197 1142H1199V1150H1197zM1342 1860H1344V1868H1342zM1342 1142H1344V1150H1342zM1445 1860H1447V1868H1445zM1445 1142H1447V1150H1445zM1524 1860H1526V1868H1524zM1524 1142H1526V1150H1524zM1589 1860H1591V1868H1589zM1589 1142H1591V1150H1589zM1644 1860H1646V1868H1644zM1644 1142H1646V1150H1644zM1692 1860H1694V1868H1692zM1692 1142H1694V1150H1692zM1734 1860H1736V1868H1734zM1734 1142H1736V1150H1734zM2019 1860H2021V1868H2019zM2019 1142H2021V1150H2019zM950 1852H952V1868H950zM950 1142H952V1158H950zM1771 1852H1773V1868H1771zM1771 1142H1773V1158H1771zM391 1721H407V1724H391zM2015 1721H2031V1723H2015zM391 1575H407V1578H391zM2015 1575H2031V1577H2015zM391 1430H407V1433H391zM2015 1429H2031V1431H2015zM391 1284H407V1287H391zM2015 1284H2031V1286H2015z" fill="#1a1a1a" shape-rendering="crispEdges"/>
<path d="M391 1867h16v2h-16zM2015 1867h16v2h-16z" fill="#1a1a1a" shape-rendering="crispEdges"/>
<path d="M622.5 1690V1706M615 1690.5h15M615 1705.5h15M766.5 1692V1705M759 1692.5h15M759 1704.5h15M868.5 1695V1710M861 1695.5h15M861 1709.5h15M948.5 1694V1710M941 1694.5h15M941 1709.5h15M1013.5 1699V1708M1006 1699.5h15M1006 1707.5h15M1067.5 1696V1706M1060 1696.5h15M1060 1705.5h15M1115.5 1694V1703M1108 1694.5h15M1108 1702.5h15M1157.5 1694V1703M1150 1694.5h15M1150 1702.5h15M1195.5 1693V1701M1188 1693.5h15M1188 1700.5h15M1229.5 1691V1701M1222 1691.5h15M1222 1700.5h15M1260.5 1689V1700M1253 1689.5h15M1253 1699.5h15M1288.5 1686V1699M1281 1686.5h15M1281 1698.5h15M1315.5 1683V1695M1308 1683.5h15M1308 1694.5h15M1339.5 1680V1692M1332 1680.5h15M1332 1691.5h15M1362.5 1678V1691M1355 1678.5h15M1355 1690.5h15M1384.5 1675V1689M1377 1675.5h15M1377 1688.5h15M1404.5 1672V1687M1397 1672.5h15M1397 1686.5h15M1423.5 1668V1684M1416 1668.5h15M1416 1683.5h15M1442.5 1665V1682M1435 1665.5h15M1435 1681.5h15M1459.5 1661V1680M1452 1661.5h15M1452 1679.5h15M1476.5 1657V1677M1469 1657.5h15M1469 1676.5h15M1492.5 1653V1674M1485 1653.5h15M1485 1673.5h15M1507.5 1649V1672M1500 1649.5h15M1500 1671.5h15M1521.5 1644V1668M1514 1644.5h15M1514 1667.5h15M1535.5 1639V1665M1528 1639.5h15M1528 1664.5h15M1549.5 1635V1661M1542 1635.5h15M1542 1660.5h15M1562.5 1630V1657M1555 1630.5h15M1555 1656.5h15M1574.5 1632V1660M1567 1632.5h15M1567 1659.5h15M1586.5 1623V1652M1579 1623.5h15M1579 1651.5h15M1598.5 1618V1648M1591 1618.5h15M1591 1647.5h15M1609.5 1616V1645M1602 1616.5h15M1602 1644.5h15M1620.5 1617V1649M1613 1617.5h15M1613 1648.5h15M1631.5 1610V1644M1624 1610.5h15M1624 1643.5h15M1641.5 1605V1639M1634 1605.5h15M1634 1638.5h15M1651.5 1603V1638M1644 1603.5h15M1644 1637.5h15M1661.5 1602V1638M1654 1602.5h15M1654 1637.5h15M1671.5 1600V1638M1664 1600.5h15M1664 1637.5h15M1680.5 1595V1633M1673 1595.5h15M1673 1632.5h15M1689.5 1594V1632M1682 1594.5h15M1682 1631.5h15M1698.5 1593V1632M1691 1593.5h15M1691 1631.5h15M1706.5 1593V1632M1699 1593.5h15M1699 1631.5h15M1715.5 1590V1632M1708 1590.5h15M1708 1631.5h15M1723.5 1589V1629M1716 1589.5h15M1716 1628.5h15M1731.5 1589V1629M1724 1589.5h15M1724 1628.5h15M1739.5 1588V1629M1732 1588.5h15M1732 1628.5h15M1746.5 1587V1629M1739 1587.5h15M1739 1628.5h15M1754.5 1586V1620M1747 1586.5h15M1747 1619.5h15M1761.5 1586V1628M1754 1586.5h15M1754 1627.5h15M1768.5 1586V1620M1761 1586.5h15M1761 1619.5h15M1776.5 1586V1619M1769 1586.5h15M1769 1618.5h15M1782.5 1583V1619M1775 1583.5h15M1775 1618.5h15M1789.5 1584V1618M1782 1584.5h15M1782 1617.5h15M1796.5 1583V1617M1789 1583.5h15M1789 1616.5h15M1802.5 1583V1617M1795 1583.5h15M1795 1616.5h15M1809.5 1582V1625M1802 1582.5h15M1802 1624.5h15M1815.5 1582V1615M1808 1582.5h15M1808 1614.5h15M1821.5 1582V1615M1814 1582.5h15M1814 1614.5h15M1828.5 1580V1622M1821 1580.5h15M1821 1621.5h15M1834.5 1577V1622M1827 1577.5h15M1827 1621.5h15M1839.5 1577V1619M1832 1577.5h15M1832 1618.5h15M1845.5 1578V1619M1838 1578.5h15M1838 1618.5h15M1851.5 1584V1625M1844 1584.5h15M1844 1624.5h15M1857.5 1576V1616M1850 1576.5h15M1850 1615.5h15M1862.5 1576V1618M1855 1576.5h15M1855 1617.5h15M1868.5 1576V1614M1861 1576.5h15M1861 1613.5h15M1873.5 1575V1613M1866 1575.5h15M1866 1612.5h15M1878.5 1575V1613M1871 1575.5h15M1871 1612.5h15M1883.5 1573V1602M1876 1573.5h15M1876 1601.5h15M1889.5 1573V1601M1882 1573.5h15M1882 1600.5h15M1894.5 1567V1610M1887 1567.5h15M1887 1609.5h15M1899.5 1570V1599M1892 1570.5h15M1892 1598.5h15M1903.5 1570V1601M1896 1570.5h15M1896 1600.5h15M1908.5 1572V1599M1901 1572.5h15M1901 1598.5h15M1913.5 1572V1599M1906 1572.5h15M1906 1598.5h15M1918.5 1572V1610M1911 1572.5h15M1911 1609.5h15M1923.5 1570V1596M1916 1570.5h15M1916 1595.5h15M1927.5 1570V1608M1920 1570.5h15M1920 1607.5h15M1932.5 1569V1608M1925 1569.5h15M1925 1607.5h15M1936.5 1569V1608M1929 1569.5h15M1929 1607.5h15M1941.5 1571V1598M1934 1571.5h15M1934 1597.5h15M1945.5 1571V1598M1938 1571.5h15M1938 1597.5h15M1949.5 1571V1608M1942 1571.5h15M1942 1607.5h15M1954.5 1573V1610M1947 1573.5h15M1947 1609.5h15M1958.5 1573V1610M1951 1573.5h15M1951 1609.5h15M1962.5 1573V1599M1955 1573.5h15M1955 1598.5h15M1966.5 1575V1611M1959 1575.5h15M1959 1610.5h15M1970.5 1575V1611M1963 1575.5h15M1963 1610.5h15M1974.5 1577V1602M1967 1577.5h15M1967 1601.5h15M1978.5 1578V1602M1971 1578.5h15M1971 1601.5h15M1982.5 1578V1602M1975 1578.5h15M1975 1601.5h15M1986.5 1578V1600M1979 1578.5h15M1979 1599.5h15M1990.5 1578V1600M1983 1578.5h15M1983 1599.5h15M1994.5 1569V1607M1987 1569.5h15M1987 1606.5h15M1997.5 1579V1601M1990 1579.5h15M1990 1600.5h15M2001.5 1579V1601M1994 1579.5h15M1994 1600.5h15M2005.5 1572V1609M1998 1572.5h15M1998 1608.5h15M2009.5 1579V1607M2002 1579.5h15M2002 1606.5h15M2012.5 1581V1610M2005 1581.5h15M2005 1609.5h15M2016.5 1579V1614M2009 1579.5h15M2009 1613.5h15M2019.5 1591V1611M2012 1591.5h15M2012 1610.5h15" stroke="#ff0000" stroke-width="1" fill="none" shape-rendering="crispEdges"/><path d="M615.5 1698.5a7 7 0 1 0 14 0a7 7 0 1 0 -14 0zM759.5 1698.5a7 7 0 1 0 14 0a7 7 0 1 0 -14 0zM861.5 1702.5a7 7 0 1 0 14 0a7 7 0 1 0 -14 0zM941.5 1701.5a7 7 0 1 0 14 0a7 7 0 1 0 -14 0zM1006.5 1703.5a7 7 0 1 0 14 0a7 7 0 1 0 -14 0zM1060.5 1701.5a7 7 0 1 0 14 0a7 7 0 1 0 -14 0zM1108.5 1698.5a7 7 0 1 0 14 0a7 7 0 1 0 -14 0zM1150.5 1697.5a7 7 0 1 0 14 0a7 7 0 1 0 -14 0zM1188.5 1696.5a7 7 0 1 0 14 0a7 7 0 1 0 -14 0zM1222.5 1696.5a7 7 0 1 0 14 0a7 7 0 1 0 -14 0zM1253.5 1694.5a7 7 0 1 0 14 0a7 7 0 1 0 -14 0zM1281.5 1692.5a7 7 0 1 0 14 0a7 7 0 1 0 -14 0zM1308.5 1688.5a7 7 0 1 0 14 0a7 7 0 1 0 -14 0zM1332.5 1685.5a7 7 0 1 0 14 0a7 7 0 1 0 -14 0zM1355.5 1684.5a7 7 0 1 0 14 0a7 7 0 1 0 -14 0zM1377.5 1681.5a7 7 0 1 0 14 0a7 7 0 1 0 -14 0zM1397.5 1679.5a7 7 0 1 0 14 0a7 7 0 1 0 -14 0zM1416.5 1676.5a7 7 0 1 0 14 0a7 7 0 1 0 -14 0zM1435.5 1673.5a7 7 0 1 0 14 0a7 7 0 1 0 -14 0zM1452.5 1670.5a7 7 0 1 0 14 0a7 7 0 1 0 -14 0zM1469.5 1666.5a7 7 0 1 0 14 0a7 7 0 1 0 -14 0zM1485.5 1663.5a7 7 0 1 0 14 0a7 7 0 1 0 -14 0zM1500.5 1660.5a7 7 0 1 0 14 0a7 7 0 1 0 -14 0zM1514.5 1655.5a7 7 0 1 0 14 0a7 7 0 1 0 -14 0zM1528.5 1651.5a7 7 0 1 0 14 0a7 7 0 1 0 -14 0zM1542.5 1648.5a7 7 0 1 0 14 0a7 7 0 1 0 -14 0zM1555.5 1643.5a7 7 0 1 0 14 0a7 7 0 1 0 -14 0zM1567.5 1645.5a7 7 0 1 0 14 0a7 7 0 1 0 -14 0zM1579.5 1637.5a7 7 0 1 0 14 0a7 7 0 1 0 -14 0zM1591.5 1632.5a7 7 0 1 0 14 0a7 7 0 1 0 -14 0zM1602.5 1630.5a7 7 0 1 0 14 0a7 7 0 1 0 -14 0zM1613.5 1632.5a7 7 0 1 0 14 0a7 7 0 1 0 -14 0zM1624.5 1627.5a7 7 0 1 0 14 0a7 7 0 1 0 -14 0zM1634.5 1622.5a7 7 0 1 0 14 0a7 7 0 1 0 -14 0zM1644.5 1620.5a7 7 0 1 0 14 0a7 7 0 1 0 -14 0zM1654.5 1620.5a7 7 0 1 0 14 0a7 7 0 1 0 -14 0zM1664.5 1618.5a7 7 0 1 0 14 0a7 7 0 1 0 -14 0zM1673.5 1614.5a7 7 0 1 0 14 0a7 7 0 1 0 -14 0zM1682.5 1613.5a7 7 0 1 0 14 0a7 7 0 1 0 -14 0zM1691.5 1612.5a7 7 0 1 0 14 0a7 7 0 1 0 -14 0zM1699.5 1612.5a7 7 0 1 0 14 0a7 7 0 1 0 -14 0zM1708.5 1609.5a7 7 0 1 0 14 0a7 7 0 1 0 -14 0zM1716.5 1608.5a7 7 0 1 0 14 0a7 7 0 1 0 -14 0zM1724.5 1608.5a7 7 0 1 0 14 0a7 7 0 1 0 -14 0zM1732.5 1608.5a7 7 0 1 0 14 0a7 7 0 1 0 -14 0zM1739.5 1606.5a7 7 0 1 0 14 0a7 7 0 1 0 -14 0zM1747.5 1602.5a7 7 0 1 0 14 0a7 7 0 1 0 -14 0zM1754.5 1606.5a7 7 0 1 0 14 0a7 7 0 1 0 -14 0zM1761.5 1602.5a7 7 0 1 0 14 0a7 7 0 1 0 -14 0zM1769.5 1601.5a7 7 0 1 0 14 0a7 7 0 1 0 -14 0zM1775.5 1600.5a7 7 0 1 0 14 0a7 7 0 1 0 -14 0zM1782.5 1600.5a7 7 0 1 0 14 0a7 7 0 1 0 -14 0zM1789.5 1600.5a7 7 0 1 0 14 0a7 7 0 1 0 -14 0zM1795.5 1599.5a7 7 0 1 0 14 0a7 7 0 1 0 -14 0zM1802.5 1602.5a7 7 0 1 0 14 0a7 7 0 1 0 -14 0zM1808.5 1598.5a7 7 0 1 0 14 0a7 7 0 1 0 -14 0zM1814.5 1598.5a7 7 0 1 0 14 0a7 7 0 1 0 -14 0zM1821.5 1601.5a7 7 0 1 0 14 0a7 7 0 1 0 -14 0zM1827.5 1598.5a7 7 0 1 0 14 0a7 7 0 1 0 -14 0zM1832.5 1599.5a7 7 0 1 0 14 0a7 7 0 1 0 -14 0zM1838.5 1598.5a7 7 0 1 0 14 0a7 7 0 1 0 -14 0zM1844.5 1604.5a7 7 0 1 0 14 0a7 7 0 1 0 -14 0zM1850.5 1597.5a7 7 0 1 0 14 0a7 7 0 1 0 -14 0zM1855.5 1596.5a7 7 0 1 0 14 0a7 7 0 1 0 -14 0zM1861.5 1595.5a7 7 0 1 0 14 0a7 7 0 1 0 -14 0zM1866.5 1594.5a7 7 0 1 0 14 0a7 7 0 1 0 -14 0zM1871.5 1594.5a7 7 0 1 0 14 0a7 7 0 1 0 -14 0zM1876.5 1587.5a7 7 0 1 0 14 0a7 7 0 1 0 -14 0zM1882.5 1588.5a7 7 0 1 0 14 0a7 7 0 1 0 -14 0zM1887.5 1587.5a7 7 0 1 0 14 0a7 7 0 1 0 -14 0zM1892.5 1586.5a7 7 0 1 0 14 0a7 7 0 1 0 -14 0zM1896.5 1585.5a7 7 0 1 0 14 0a7 7 0 1 0 -14 0zM1901.5 1587.5a7 7 0 1 0 14 0a7 7 0 1 0 -14 0zM1906.5 1587.5a7 7 0 1 0 14 0a7 7 0 1 0 -14 0zM1911.5 1587.5a7 7 0 1 0 14 0a7 7 0 1 0 -14 0zM1916.5 1586.5a7 7 0 1 0 14 0a7 7 0 1 0 -14 0zM1920.5 1586.5a7 7 0 1 0 14 0a7 7 0 1 0 -14 0zM1925.5 1585.5a7 7 0 1 0 14 0a7 7 0 1 0 -14 0zM1929.5 1586.5a7 7 0 1 0 14 0a7 7 0 1 0 -14 0zM1934.5 1586.5a7 7 0 1 0 14 0a7 7 0 1 0 -14 0zM1938.5 1587.5a7 7 0 1 0 14 0a7 7 0 1 0 -14 0zM1942.5 1588.5a7 7 0 1 0 14 0a7 7 0 1 0 -14 0zM1947.5 1589.5a7 7 0 1 0 14 0a7 7 0 1 0 -14 0zM1951.5 1589.5a7 7 0 1 0 14 0a7 7 0 1 0 -14 0zM1955.5 1591.5a7 7 0 1 0 14 0a7 7 0 1 0 -14 0zM1959.5 1592.5a7 7 0 1 0 14 0a7 7 0 1 0 -14 0zM1963.5 1592.5a7 7 0 1 0 14 0a7 7 0 1 0 -14 0zM1967.5 1592.5a7 7 0 1 0 14 0a7 7 0 1 0 -14 0zM1971.5 1592.5a7 7 0 1 0 14 0a7 7 0 1 0 -14 0zM1975.5 1592.5a7 7 0 1 0 14 0a7 7 0 1 0 -14 0zM1979.5 1591.5a7 7 0 1 0 14 0a7 7 0 1 0 -14 0zM1983.5 1591.5a7 7 0 1 0 14 0a7 7 0 1 0 -14 0zM1987.5 1589.5a7 7 0 1 0 14 0a7 7 0 1 0 -14 0zM1990.5 1592.5a7 7 0 1 0 14 0a7 7 0 1 0 -14 0zM1994.5 1593.5a7 7 0 1 0 14 0a7 7 0 1 0 -14 0zM1998.5 1594.5a7 7 0 1 0 14 0a7 7 0 1 0 -14 0zM2002.5 1596.5a7 7 0 1 0 14 0a7 7 0 1 0 -14 0zM2005.5 1597.5a7 7 0 1 0 14 0a7 7 0 1 0 -14 0zM2009.5 1599.5a7 7 0 1 0 14 0a7 7 0 1 0 -14 0zM2012.5 1601.5a7 7 0 1 0 14 0a7 7 0 1 0 -14 0z" stroke="#ff0000" stroke-width="1" stroke-linecap="square" fill="none" shape-rendering="crispEdges"/>
<path d="M622.5 1433V1536M615 1433.5h15M615 1535.5h15M766.5 1509V1582M759 1509.5h15M759 1581.5h15M868.5 1550V1609M861 1550.5h15M861 1608.5h15M948.5 1577V1626M941 1577.5h15M941 1625.5h15M1013.5 1597V1641M1006 1597.5h15M1006 1640.5h15M1067.5 1606V1645M1060 1606.5h15M1060 1644.5h15M1115.5 1611V1648M1108 1611.5h15M1108 1647.5h15M1157.5 1617V1652M1150 1617.5h15M1150 1651.5h15M1195.5 1622V1655M1188 1622.5h15M1188 1654.5h15M1229.5 1623V1656M1222 1623.5h15M1222 1655.5h15M1260.5 1624V1656M1253 1624.5h15M1253 1655.5h15M1288.5 1624V1657M1281 1624.5h15M1281 1656.5h15M1315.5 1623V1655M1308 1623.5h15M1308 1654.5h15M1339.5 1621V1653M1332 1621.5h15M1332 1652.5h15M1362.5 1621V1653M1355 1621.5h15M1355 1652.5h15M1384.5 1619V1651M1377 1619.5h15M1377 1650.5h15M1404.5 1618V1650M1397 1618.5h15M1397 1649.5h15M1423.5 1614V1647M1416 1614.5h15M1416 1646.5h15M1442.5 1612V1646M1435 1612.5h15M1435 1645.5h15M1459.5 1609V1643M1452 1609.5h15M1452 1642.5h15M1476.5 1604V1640M1469 1604.5h15M1469 1639.5h15M1492.5 1600V1636M1485 1600.5h15M1485 1635.5h15M1507.5 1597V1634M1500 1597.5h15M1500 1633.5h15M1521.5 1591V1629M1514 1591.5h15M1514 1628.5h15M1535.5 1583V1624M1528 1583.5h15M1528 1623.5h15M1549.5 1579V1619M1542 1579.5h15M1542 1618.5h15M1562.5 1574V1614M1555 1574.5h15M1555 1613.5h15M1574.5 1577V1617M1567 1577.5h15M1567 1616.5h15M1586.5 1567V1609M1579 1567.5h15M1579 1608.5h15M1598.5 1561V1604M1591 1561.5h15M1591 1603.5h15M1609.5 1556V1599M1602 1556.5h15M1602 1598.5h15M1620.5 1558V1602M1613 1558.5h15M1613 1601.5h15M1631.5 1550V1596M1624 1550.5h15M1624 1595.5h15M1641.5 1545V1590M1634 1545.5h15M1634 1589.5h15M1651.5 1543V1590M1644 1543.5h15M1644 1589.5h15M1661.5 1542V1589M1654 1542.5h15M1654 1588.5h15M1671.5 1539V1587M1664 1539.5h15M1664 1586.5h15M1680.5 1534V1583M1673 1534.5h15M1673 1582.5h15M1689.5 1533V1582M1682 1533.5h15M1682 1581.5h15M1698.5 1532V1581M1691 1532.5h15M1691 1580.5h15M1706.5 1532V1581M1699 1532.5h15M1699 1580.5h15M1715.5 1529V1580M1708 1529.5h15M1708 1579.5h15M1723.5 1528V1578M1716 1528.5h15M1716 1577.5h15M1731.5 1528V1578M1724 1528.5h15M1724 1577.5h15M1739.5 1526V1577M1732 1526.5h15M1732 1576.5h15M1746.5 1525V1576M1739 1525.5h15M1739 1575.5h15M1754.5 1524V1576M1747 1524.5h15M1747 1575.5h15M1761.5 1524V1575M1754 1524.5h15M1754 1574.5h15M1768.5 1524V1576M1761 1524.5h15M1761 1575.5h15M1776.5 1525V1576M1769 1525.5h15M1769 1575.5h15M1782.5 1522V1575M1775 1522.5h15M1775 1574.5h15M1789.5 1523V1575M1782 1523.5h15M1782 1574.5h15M1796.5 1523V1573M1789 1523.5h15M1789 1572.5h15M1802.5 1522V1574M1795 1522.5h15M1795 1573.5h15M1809.5 1520V1573M1802 1520.5h15M1802 1572.5h15M1815.5 1521V1571M1808 1521.5h15M1808 1570.5h15M1821.5 1521V1571M1814 1521.5h15M1814 1570.5h15M1828.5 1521V1569M1821 1521.5h15M1821 1568.5h15M1834.5 1515V1565M1827 1515.5h15M1827 1564.5h15M1839.5 1517V1565M1832 1517.5h15M1832 1564.5h15M1845.5 1517V1566M1838 1517.5h15M1838 1565.5h15M1851.5 1523V1571M1844 1523.5h15M1844 1570.5h15M1857.5 1513V1562M1850 1513.5h15M1850 1561.5h15M1862.5 1513V1561M1855 1513.5h15M1855 1560.5h15M1868.5 1513V1561M1861 1513.5h15M1861 1560.5h15M1873.5 1517V1565M1866 1517.5h15M1866 1564.5h15M1878.5 1517V1564M1871 1517.5h15M1871 1563.5h15M1883.5 1516V1563M1876 1516.5h15M1876 1562.5h15M1889.5 1515V1561M1882 1515.5h15M1882 1560.5h15M1894.5 1515V1563M1887 1515.5h15M1887 1562.5h15M1899.5 1519V1565M1892 1519.5h15M1892 1564.5h15M1903.5 1517V1563M1896 1517.5h15M1896 1562.5h15M1908.5 1516V1562M1901 1516.5h15M1901 1561.5h15M1913.5 1514V1560M1906 1514.5h15M1906 1559.5h15M1918.5 1512V1557M1911 1512.5h15M1911 1556.5h15M1923.5 1513V1557M1916 1513.5h15M1916 1556.5h15M1927.5 1513V1556M1920 1513.5h15M1920 1555.5h15M1932.5 1513V1556M1925 1513.5h15M1925 1555.5h15M1936.5 1510V1556M1929 1510.5h15M1929 1555.5h15M1941.5 1514V1560M1934 1514.5h15M1934 1559.5h15M1945.5 1516V1562M1938 1516.5h15M1938 1561.5h15M1949.5 1516V1563M1942 1516.5h15M1942 1562.5h15M1954.5 1519V1563M1947 1519.5h15M1947 1562.5h15M1958.5 1521V1565M1951 1521.5h15M1951 1564.5h15M1962.5 1523V1569M1955 1523.5h15M1955 1568.5h15M1966.5 1524V1568M1959 1524.5h15M1959 1567.5h15M1970.5 1525V1568M1963 1525.5h15M1963 1567.5h15M1974.5 1524V1569M1967 1524.5h15M1967 1568.5h15M1978.5 1524V1570M1971 1524.5h15M1971 1569.5h15M1982.5 1524V1570M1975 1524.5h15M1975 1569.5h15M1986.5 1524V1565M1979 1524.5h15M1979 1564.5h15M1990.5 1525V1569M1983 1525.5h15M1983 1568.5h15M1994.5 1516V1559M1987 1516.5h15M1987 1558.5h15M1997.5 1528V1569M1990 1528.5h15M1990 1568.5h15M2001.5 1530V1569M1994 1530.5h15M1994 1568.5h15M2005.5 1520V1562M1998 1520.5h15M1998 1561.5h15M2009.5 1524V1568M2002 1524.5h15M2002 1567.5h15M2012.5 1534V1579M2005 1534.5h15M2005 1578.5h15M2016.5 1528V1569M2009 1528.5h15M2009 1568.5h15M2019.5 1540V1583M2012 1540.5h15M2012 1582.5h15" stroke="#0000ff" stroke-width="1" fill="none" shape-rendering="crispEdges"/><path d="M617.5 1479.5l10 10M617.5 1489.5l10 -10M761.5 1540.5l10 10M761.5 1550.5l10 -10M863.5 1574.5l10 10M863.5 1584.5l10 -10M943.5 1596.5l10 10M943.5 1606.5l10 -10M1008.5 1614.5l10 10M1008.5 1624.5l10 -10M1062.5 1620.5l10 10M1062.5 1630.5l10 -10M1110.5 1624.5l10 10M1110.5 1634.5l10 -10M1152.5 1629.5l10 10M1152.5 1639.5l10 -10M1190.5 1633.5l10 10M1190.5 1643.5l10 -10M1224.5 1634.5l10 10M1224.5 1644.5l10 -10M1255.5 1635.5l10 10M1255.5 1645.5l10 -10M1283.5 1635.5l10 10M1283.5 1645.5l10 -10M1310.5 1633.5l10 10M1310.5 1643.5l10 -10M1334.5 1632.5l10 10M1334.5 1642.5l10 -10M1357.5 1632.5l10 10M1357.5 1642.5l10 -10M1379.5 1630.5l10 10M1379.5 1640.5l10 -10M1399.5 1628.5l10 10M1399.5 1638.5l10 -10M1418.5 1625.5l10 10M1418.5 1635.5l10 -10M1437.5 1623.5l10 10M1437.5 1633.5l10 -10M1454.5 1621.5l10 10M1454.5 1631.5l10 -10M1471.5 1617.5l10 10M1471.5 1627.5l10 -10M1487.5 1612.5l10 10M1487.5 1622.5l10 -10M1502.5 1610.5l10 10M1502.5 1620.5l10 -10M1516.5 1604.5l10 10M1516.5 1614.5l10 -10M1530.5 1598.5l10 10M1530.5 1608.5l10 -10M1544.5 1594.5l10 10M1544.5 1604.5l10 -10M1557.5 1589.5l10 10M1557.5 1599.5l10 -10M1569.5 1591.5l10 10M1569.5 1601.5l10 -10M1581.5 1582.5l10 10M1581.5 1592.5l10 -10M1593.5 1577.5l10 10M1593.5 1587.5l10 -10M1604.5 1572.5l10 10M1604.5 1582.5l10 -10M1615.5 1575.5l10 10M1615.5 1585.5l10 -10M1626.5 1568.5l10 10M1626.5 1578.5l10 -10M1636.5 1562.5l10 10M1636.5 1572.5l10 -10M1646.5 1561.5l10 10M1646.5 1571.5l10 -10M1656.5 1560.5l10 10M1656.5 1570.5l10 -10M1666.5 1558.5l10 10M1666.5 1568.5l10 -10M1675.5 1553.5l10 10M1675.5 1563.5l10 -10M1684.5 1552.5l10 10M1684.5 1562.5l10 -10M1693.5 1551.5l10 10M1693.5 1561.5l10 -10M1701.5 1551.5l10 10M1701.5 1561.5l10 -10M1710.5 1548.5l10 10M1710.5 1558.5l10 -10M1718.5 1547.5l10 10M1718.5 1557.5l10 -10M1726.5 1547.5l10 10M1726.5 1557.5l10 -10M1734.5 1546.5l10 10M1734.5 1556.5l10 -10M1741.5 1545.5l10 10M1741.5 1555.5l10 -10M1749.5 1545.5l10 10M1749.5 1555.5l10 -10M1756.5 1545.5l10 10M1756.5 1555.5l10 -10M1763.5 1545.5l10 10M1763.5 1555.5l10 -10M1771.5 1545.5l10 10M1771.5 1555.5l10 -10M1777.5 1543.5l10 10M1777.5 1553.5l10 -10M1784.5 1543.5l10 10M1784.5 1553.5l10 -10M1791.5 1543.5l10 10M1791.5 1553.5l10 -10M1797.5 1543.5l10 10M1797.5 1553.5l10 -10M1804.5 1542.5l10 10M1804.5 1552.5l10 -10M1810.5 1541.5l10 10M1810.5 1551.5l10 -10M1816.5 1541.5l10 10M1816.5 1551.5l10 -10M1823.5 1541.5l10 10M1823.5 1551.5l10 -10M1829.5 1537.5l10 10M1829.5 1547.5l10 -10M1834.5 1535.5l10 10M1834.5 1545.5l10 -10M1840.5 1536.5l10 10M1840.5 1546.5l10 -10M1846.5 1542.5l10 10M1846.5 1552.5l10 -10M1852.5 1534.5l10 10M1852.5 1544.5l10 -10M1857.5 1532.5l10 10M1857.5 1542.5l10 -10M1863.5 1531.5l10 10M1863.5 1541.5l10 -10M1868.5 1536.5l10 10M1868.5 1546.5l10 -10M1873.5 1536.5l10 10M1873.5 1546.5l10 -10M1878.5 1534.5l10 10M1878.5 1544.5l10 -10M1884.5 1533.5l10 10M1884.5 1543.5l10 -10M1889.5 1535.5l10 10M1889.5 1545.5l10 -10M1894.5 1536.5l10 10M1894.5 1546.5l10 -10M1898.5 1535.5l10 10M1898.5 1545.5l10 -10M1903.5 1534.5l10 10M1903.5 1544.5l10 -10M1908.5 1532.5l10 10M1908.5 1542.5l10 -10M1913.5 1529.5l10 10M1913.5 1539.5l10 -10M1918.5 1529.5l10 10M1918.5 1539.5l10 -10M1922.5 1529.5l10 10M1922.5 1539.5l10 -10M1927.5 1528.5l10 10M1927.5 1538.5l10 -10M1931.5 1528.5l10 10M1931.5 1538.5l10 -10M1936.5 1530.5l10 10M1936.5 1540.5l10 -10M1940.5 1534.5l10 10M1940.5 1544.5l10 -10M1944.5 1535.5l10 10M1944.5 1545.5l10 -10M1949.5 1536.5l10 10M1949.5 1546.5l10 -10M1953.5 1538.5l10 10M1953.5 1548.5l10 -10M1957.5 1540.5l10 10M1957.5 1550.5l10 -10M1961.5 1541.5l10 10M1961.5 1551.5l10 -10M1965.5 1541.5l10 10M1965.5 1551.5l10 -10M1969.5 1541.5l10 10M1969.5 1551.5l10 -10M1973.5 1542.5l10 10M1973.5 1552.5l10 -10M1977.5 1541.5l10 10M1977.5 1551.5l10 -10M1981.5 1540.5l10 10M1981.5 1550.5l10 -10M1985.5 1539.5l10 10M1985.5 1549.5l10 -10M1989.5 1531.5l10 10M1989.5 1541.5l10 -10M1992.5 1541.5l10 10M1992.5 1551.5l10 -10M1996.5 1540.5l10 10M1996.5 1550.5l10 -10M2000.5 1536.5l10 10M2000.5 1546.5l10 -10M2004.5 1539.5l10 10M2004.5 1549.5l10 -10M2007.5 1545.5l10 10M2007.5 1555.5l10 -10M2011.5 1544.5l10 10M2011.5 1554.5l10 -10M2014.5 1556.5l10 10M2014.5 1566.5l10 -10" stroke="#0000ff" stroke-width="1" stroke-linecap="square" fill="none" shape-rendering="crispEdges"/>
<text y="1299.00" font-size="68.50" fill="#262626"><tspan x="336.18" textLength="35.29" lengthAdjust="spacingAndGlyphs">3</tspan></text>
<text y="1445.00" font-size="68.50" fill="#262626"><tspan x="336.01" textLength="37.35" lengthAdjust="spacingAndGlyphs">2</tspan></text>
<text y="1589.80" font-size="68.50" fill="#262626"><tspan x="332.51" textLength="40.54" lengthAdjust="spacingAndGlyphs">1</tspan></text>
<text y="1736.30" font-size="68.50" fill="#262626"><tspan x="335.82" textLength="37.26" lengthAdjust="spacingAndGlyphs">0</tspan></text>
<text y="1881.80" font-size="68.50" fill="#262626"><tspan x="312.41" textLength="59.38" lengthAdjust="spacingAndGlyphs">-1</tspan></text>
<text y="1968.80" font-size="68.5" fill="#262626"><tspan x="899.18" textLength="72.73" lengthAdjust="spacingAndGlyphs">10</tspan><tspan x="969.69" textLength="28.93" lengthAdjust="spacingAndGlyphs" y="1936.20" font-size="54.50">0</tspan></text>
<text y="1968.80" font-size="68.5" fill="#262626"><tspan x="1720.96" textLength="72.95" lengthAdjust="spacingAndGlyphs">10</tspan><tspan x="1788.91" textLength="31.22" lengthAdjust="spacingAndGlyphs" y="1936.10" font-size="54.50">1</tspan></text>
<text y="2068.90" font-size="77.00" fill="#262626"><tspan x="921.09" y="2068.90" textLength="41.09" lengthAdjust="spacingAndGlyphs">F</tspan><tspan x="962.18" y="2068.90" textLength="28.75" lengthAdjust="spacingAndGlyphs">r</tspan><tspan x="990.93" y="2068.90" textLength="36.95" lengthAdjust="spacingAndGlyphs">e</tspan><tspan x="1027.88" y="2068.90" textLength="45.15" lengthAdjust="spacingAndGlyphs">q</tspan><tspan x="1073.03" y="2068.90" textLength="45.15" lengthAdjust="spacingAndGlyphs">u</tspan><tspan x="1118.18" y="2068.90" textLength="36.95" lengthAdjust="spacingAndGlyphs">e</tspan><tspan x="1155.13" y="2068.90" textLength="45.15" lengthAdjust="spacingAndGlyphs">n</tspan><tspan x="1200.29" y="2068.90" textLength="32.81" lengthAdjust="spacingAndGlyphs">c</tspan><tspan x="1233.10" y="2068.90" textLength="41.09" lengthAdjust="spacingAndGlyphs">y</tspan> <tspan x="1292.07" y="2068.90" textLength="24.61" lengthAdjust="spacingAndGlyphs">(</tspan><tspan x="1316.68" y="2068.90" textLength="61.56" lengthAdjust="spacingAndGlyphs">G</tspan><tspan x="1378.24" y="2068.90" textLength="61.56" lengthAdjust="spacingAndGlyphs">H</tspan><tspan x="1439.80" y="2068.90" textLength="36.95" lengthAdjust="spacingAndGlyphs">z</tspan><tspan x="1476.75" y="2068.90" textLength="24.61" lengthAdjust="spacingAndGlyphs">)</tspan></text>
<text transform="rotate(-90)" y="70.30" font-size="77.50" fill="#262626"><tspan x="-1808.29" textLength="28.75" lengthAdjust="spacingAndGlyphs">I</tspan><tspan x="-1779.54" textLength="65.70" lengthAdjust="spacingAndGlyphs">m</tspan><tspan x="-1713.84" textLength="36.95" lengthAdjust="spacingAndGlyphs">a</tspan><tspan x="-1676.89" textLength="41.09" lengthAdjust="spacingAndGlyphs">g</tspan><tspan x="-1635.80" textLength="24.61" lengthAdjust="spacingAndGlyphs">i</tspan><tspan x="-1611.19" textLength="45.15" lengthAdjust="spacingAndGlyphs">n</tspan><tspan x="-1566.04" textLength="36.95" lengthAdjust="spacingAndGlyphs">a</tspan><tspan x="-1529.09" textLength="28.75" lengthAdjust="spacingAndGlyphs">r</tspan><tspan x="-1500.34" textLength="41.09" lengthAdjust="spacingAndGlyphs">y</tspan></text>
<text transform="rotate(-90)" y="172.70" font-size="77.50" fill="#262626"><tspan x="-1872.45" textLength="45.15" lengthAdjust="spacingAndGlyphs">d</tspan><tspan x="-1827.29" textLength="24.61" lengthAdjust="spacingAndGlyphs">i</tspan><tspan x="-1802.69" textLength="36.95" lengthAdjust="spacingAndGlyphs">e</tspan><tspan x="-1765.74" textLength="24.61" lengthAdjust="spacingAndGlyphs">l</tspan><tspan x="-1741.13" textLength="36.95" lengthAdjust="spacingAndGlyphs">e</tspan><tspan x="-1704.18" textLength="32.81" lengthAdjust="spacingAndGlyphs">c</tspan><tspan x="-1671.37" textLength="24.61" lengthAdjust="spacingAndGlyphs">t</tspan><tspan x="-1646.76" textLength="28.75" lengthAdjust="spacingAndGlyphs">r</tspan><tspan x="-1618.01" textLength="24.61" lengthAdjust="spacingAndGlyphs">i</tspan><tspan x="-1593.40" textLength="32.81" lengthAdjust="spacingAndGlyphs">c</tspan> <tspan x="-1542.12" textLength="45.15" lengthAdjust="spacingAndGlyphs">p</tspan><tspan x="-1496.96" textLength="36.95" lengthAdjust="spacingAndGlyphs">e</tspan><tspan x="-1460.01" textLength="28.75" lengthAdjust="spacingAndGlyphs">r</tspan><tspan x="-1431.27" textLength="65.70" lengthAdjust="spacingAndGlyphs">m</tspan><tspan x="-1365.57" textLength="24.61" lengthAdjust="spacingAndGlyphs">i</tspan><tspan x="-1340.96" textLength="24.61" lengthAdjust="spacingAndGlyphs">t</tspan><tspan x="-1316.35" textLength="24.61" lengthAdjust="spacingAndGlyphs">t</tspan><tspan x="-1291.74" textLength="24.61" lengthAdjust="spacingAndGlyphs">i</tspan><tspan x="-1267.14" textLength="41.09" lengthAdjust="spacingAndGlyphs">v</tspan><tspan x="-1226.05" textLength="24.61" lengthAdjust="spacingAndGlyphs">i</tspan><tspan x="-1201.44" textLength="24.61" lengthAdjust="spacingAndGlyphs">t</tspan><tspan x="-1176.83" textLength="41.09" lengthAdjust="spacingAndGlyphs">y</tspan></text>
<text transform="rotate(-90)" fill="#262626"><tspan x="-1725.31" y="267.66" font-size="67.33" textLength="25.21" lengthAdjust="spacingAndGlyphs">(</tspan><tspan x="-1703.56" y="278.38" font-size="94.12" textLength="28.18" lengthAdjust="spacingAndGlyphs">-</tspan><tspan x="-1676.72" y="267.66" font-size="67.33" textLength="23.57" lengthAdjust="spacingAndGlyphs">)</tspan></text>
<text y="2210" font-size="88" fill="#1a1a1a"><tspan x="1046.00" textLength="26.64" lengthAdjust="spacingAndGlyphs" font-weight="normal">(</tspan><tspan x="1078.08" textLength="45.27" lengthAdjust="spacingAndGlyphs">b</tspan><tspan x="1125.15" textLength="26.13" lengthAdjust="spacingAndGlyphs" font-weight="normal">)</tspan></text>
<rect x="839.5" y="1115.5" width="1212" height="193" fill="#fff" stroke="#262626" stroke-width="1" shape-rendering="crispEdges"/>
<path d="M883.5 1143V1187M876 1143.5h15M876 1186.5h15" stroke="#ff0000" stroke-width="1" fill="none" shape-rendering="crispEdges"/><path d="M876.5 1165.5a7 7 0 1 0 14 0a7 7 0 1 0 -14 0z" stroke="#ff0000" stroke-width="1" stroke-linecap="square" fill="none" shape-rendering="crispEdges"/>
<path d="M883.5 1237V1281M876 1237.5h15M876 1280.5h15" stroke="#0000ff" stroke-width="1" fill="none" shape-rendering="crispEdges"/><path d="M878.5 1253.5l10 10M878.5 1263.5l10 -10" stroke="#0000ff" stroke-width="1" stroke-linecap="square" fill="none" shape-rendering="crispEdges"/>
<text y="1179.30" font-size="71.00" fill="#000" filter="url(#alias)"><tspan x="923.50" y="1179.30" textLength="47.65" lengthAdjust="spacingAndGlyphs">C</tspan><tspan x="971.15" y="1179.30" textLength="19.54" lengthAdjust="spacingAndGlyphs">/</tspan><tspan x="990.69" y="1179.30" textLength="54.98" lengthAdjust="spacingAndGlyphs">N</tspan> <tspan x="1062.78" y="1178.55" font-size="61.03" textLength="37.74" lengthAdjust="spacingAndGlyphs" stroke="#000" stroke-width="2.20">=</tspan> <tspan x="1111.92" y="1179.30" textLength="37.91" lengthAdjust="spacingAndGlyphs" font-size="67.80">1</tspan><tspan x="1148.66" y="1179.30" textLength="37.21" lengthAdjust="spacingAndGlyphs" font-size="67.80">2</tspan><tspan x="1181.70" y="1179.30" textLength="36.77" lengthAdjust="spacingAndGlyphs" font-size="67.80">0</tspan><tspan x="1217.87" y="1179.30" textLength="21.41" lengthAdjust="spacingAndGlyphs" font-size="71.00">,</tspan> <tspan x="1250.43" y="1179.30" textLength="40.33" lengthAdjust="spacingAndGlyphs">u</tspan><tspan x="1286.38" y="1179.30" textLength="69.96" lengthAdjust="spacingAndGlyphs" font-size="71.00">%</tspan> <tspan x="1366.05" y="1178.55" font-size="61.03" textLength="37.74" lengthAdjust="spacingAndGlyphs" stroke="#000" stroke-width="2.20">=</tspan> <tspan x="1418.63" y="1179.30" textLength="35.92" lengthAdjust="spacingAndGlyphs" font-size="67.80">8</tspan><tspan x="1449.10" y="1179.30" textLength="69.96" lengthAdjust="spacingAndGlyphs" font-size="71.00">%</tspan> <tspan x="1528.84" y="1179.30" textLength="40.33" lengthAdjust="spacingAndGlyphs">b</tspan><tspan x="1569.17" y="1179.30" textLength="16.50" lengthAdjust="spacingAndGlyphs">.</tspan><tspan x="1585.67" y="1179.30" textLength="54.98" lengthAdjust="spacingAndGlyphs">w</tspan><tspan x="1640.65" y="1179.30" textLength="16.50" lengthAdjust="spacingAndGlyphs">.</tspan><tspan x="1658.04" y="1179.30" textLength="21.41" lengthAdjust="spacingAndGlyphs" font-size="71.00">,</tspan> <tspan x="1693.94" y="1179.30" textLength="21.98" lengthAdjust="spacingAndGlyphs">t</tspan> <tspan x="1730.48" y="1178.55" font-size="61.03" textLength="37.74" lengthAdjust="spacingAndGlyphs" stroke="#000" stroke-width="2.20">=</tspan> <tspan x="1778.63" y="1179.30" textLength="37.91" lengthAdjust="spacingAndGlyphs" font-size="67.80">1</tspan><tspan x="1815.44" y="1179.30" textLength="36.34" lengthAdjust="spacingAndGlyphs" font-size="67.80">3</tspan><tspan x="1848.41" y="1179.30" textLength="36.77" lengthAdjust="spacingAndGlyphs" font-size="67.80">0</tspan> <tspan x="1901.14" y="1179.30" textLength="40.33" lengthAdjust="spacingAndGlyphs">d</tspan><tspan x="1941.47" y="1179.30" textLength="33.00" lengthAdjust="spacingAndGlyphs">a</tspan><tspan x="1974.47" y="1179.30" textLength="36.70" lengthAdjust="spacingAndGlyphs">y</tspan><tspan x="2011.16" y="1179.30" textLength="29.30" lengthAdjust="spacingAndGlyphs">s</tspan></text>
<text y="1273.00" font-size="71.00" fill="#000" filter="url(#alias)"><tspan x="923.50" y="1273.00" textLength="47.65" lengthAdjust="spacingAndGlyphs">C</tspan><tspan x="971.15" y="1273.00" textLength="19.54" lengthAdjust="spacingAndGlyphs">/</tspan><tspan x="990.69" y="1273.00" textLength="54.98" lengthAdjust="spacingAndGlyphs">N</tspan> <tspan x="1062.78" y="1272.25" font-size="61.03" textLength="37.74" lengthAdjust="spacingAndGlyphs" stroke="#000" stroke-width="2.20">=</tspan> <tspan x="1111.92" y="1273.00" textLength="37.91" lengthAdjust="spacingAndGlyphs" font-size="67.80">1</tspan><tspan x="1148.66" y="1273.00" textLength="37.21" lengthAdjust="spacingAndGlyphs" font-size="67.80">2</tspan><tspan x="1181.70" y="1273.00" textLength="36.77" lengthAdjust="spacingAndGlyphs" font-size="67.80">0</tspan><tspan x="1217.87" y="1273.00" textLength="21.41" lengthAdjust="spacingAndGlyphs" font-size="71.00">,</tspan> <tspan x="1250.43" y="1273.00" textLength="40.33" lengthAdjust="spacingAndGlyphs">u</tspan><tspan x="1286.38" y="1273.00" textLength="69.96" lengthAdjust="spacingAndGlyphs" font-size="71.00">%</tspan> <tspan x="1366.05" y="1272.25" font-size="61.03" textLength="37.74" lengthAdjust="spacingAndGlyphs" stroke="#000" stroke-width="2.20">=</tspan> <tspan x="1418.63" y="1273.00" textLength="35.92" lengthAdjust="spacingAndGlyphs" font-size="67.80">8</tspan><tspan x="1449.10" y="1273.00" textLength="69.96" lengthAdjust="spacingAndGlyphs" font-size="71.00">%</tspan> <tspan x="1528.84" y="1273.00" textLength="40.33" lengthAdjust="spacingAndGlyphs">b</tspan><tspan x="1569.17" y="1273.00" textLength="16.50" lengthAdjust="spacingAndGlyphs">.</tspan><tspan x="1585.67" y="1273.00" textLength="54.98" lengthAdjust="spacingAndGlyphs">w</tspan><tspan x="1640.65" y="1273.00" textLength="16.50" lengthAdjust="spacingAndGlyphs">.</tspan><tspan x="1658.04" y="1273.00" textLength="21.41" lengthAdjust="spacingAndGlyphs" font-size="71.00">,</tspan> <tspan x="1693.94" y="1273.00" textLength="21.98" lengthAdjust="spacingAndGlyphs">t</tspan> <tspan x="1730.48" y="1272.25" font-size="61.03" textLength="37.74" lengthAdjust="spacingAndGlyphs" stroke="#000" stroke-width="2.20">=</tspan> <tspan x="1781.75" y="1273.00" textLength="36.77" lengthAdjust="spacingAndGlyphs" font-size="67.80">0</tspan></text>
</g>
</svg>
</body>
</html>
